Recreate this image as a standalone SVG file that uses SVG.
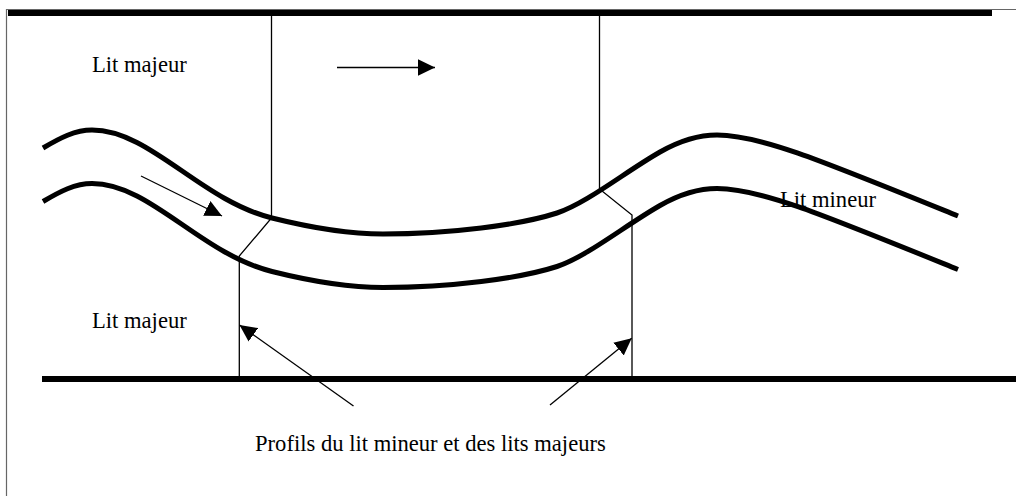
<svg xmlns="http://www.w3.org/2000/svg" width="1016" height="496" viewBox="0 0 1016 496">
  <style>
    .bank { fill: none; stroke: #000; stroke-width: 5; stroke-linecap: butt; }
    .thick { stroke: #000; stroke-width: 6; }
    .thin { fill: none; stroke: #000; stroke-width: 1.3; }
    .lbl { font-family: "Liberation Serif", "Times New Roman", serif; font-size: 22.6px; fill: #000; }
  </style>
  <defs>
    <marker id="ah" markerUnits="userSpaceOnUse" markerWidth="18" markerHeight="17" refX="17" refY="8.25" orient="auto">
      <path d="M0,0 L17,8.25 L0,16.5 z" fill="#000"/>
    </marker>
  </defs>
  <rect x="0" y="0" width="1016" height="496" fill="#fff"/>
  <g id="frame">
    <path d="M1016,9.5 H6.5 V496" fill="none" stroke="#666" stroke-width="1.2"/>
    <line class="thick" x1="8" y1="13" x2="992" y2="13"/>
    <line class="thick" x1="42" y1="379" x2="1016" y2="379"/>
  </g>
  <g id="river">
    <path id="bank-upper" class="bank" d="M43,148 C60,138 75,130 92,130 C150,130 200,200 272,218 C300,225 340,234 383,234 C450,234 520,225 557,213 C587,203 625,172 660,152 C680,140.6 700,135 717,135 C760,135 820,160 958,216"/>
    <path id="bank-lower" class="bank" transform="translate(0,53.5)" d="M43,148 C60,138 75,130 92,130 C150,130 200,200 272,218 C300,225 340,234 383,234 C450,234 520,225 557,213 C587,203 625,172 660,152 C680,140.6 700,135 717,135 C760,135 820,160 958,216"/>
  </g>
  <g id="profile-left">
    <path class="thin" d="M271.5,16 V218 L239.3,256 V379"/>
  </g>
  <g id="profile-right">
    <path class="thin" d="M599.5,16 V189 L632,215 V379"/>
  </g>
  <g id="label-lit-majeur-top">
    <text class="lbl" x="92" y="72">Lit majeur</text>
  </g>
  <g id="label-lit-majeur-bottom">
    <text class="lbl" x="92" y="328">Lit majeur</text>
  </g>
  <g id="label-lit-mineur">
    <text class="lbl" x="780" y="207">Lit mineur</text>
  </g>
  <g id="label-profils">
    <text class="lbl" x="255" y="451">Profils du lit mineur et des lits majeurs</text>
  </g>
  <g id="connectors">
    <line class="thin" x1="337" y1="67.5" x2="435" y2="67.5" marker-end="url(#ah)"/>
    <line class="thin" x1="141" y1="176" x2="222" y2="216" marker-end="url(#ah)"/>
    <line class="thin" x1="353.5" y1="406" x2="239.5" y2="325" marker-end="url(#ah)"/>
    <line class="thin" x1="550" y1="405" x2="631.7" y2="338.3" marker-end="url(#ah)"/>
  </g>
</svg>
